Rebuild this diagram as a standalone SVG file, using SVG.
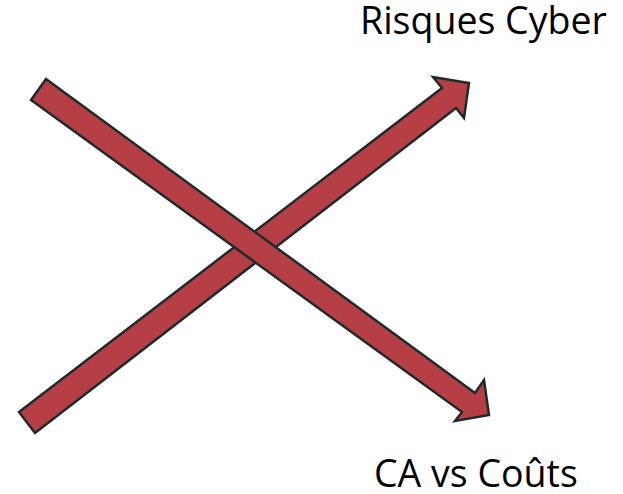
<svg xmlns="http://www.w3.org/2000/svg" width="623" height="494" viewBox="0 0 623 494">
<style>
.arr{fill:#b53f45;stroke:#1f2b2b;stroke-width:2.5;stroke-linejoin:miter}
.lbl{font-family:"Open Sans","Noto Sans",sans-serif;font-size:37.5px;fill:#000}
</style>
<rect width="623" height="494" fill="#fff"/>
<g id="connectors">
<polygon id="arrow-up" class="arr" points="19,412 442,88 433,77 469,83 464,118 456,108 35,433"/>
<polygon id="arrow-down" class="arr" points="46,79 475,393 484,380 489,415 455,421 462,412 31,100"/>
</g>
<g id="label-risques"><text class="lbl" x="360" y="34">Risques Cyber</text></g>
<g id="label-ca"><text class="lbl" x="374" y="487">CA vs Coûts</text></g>
</svg>
